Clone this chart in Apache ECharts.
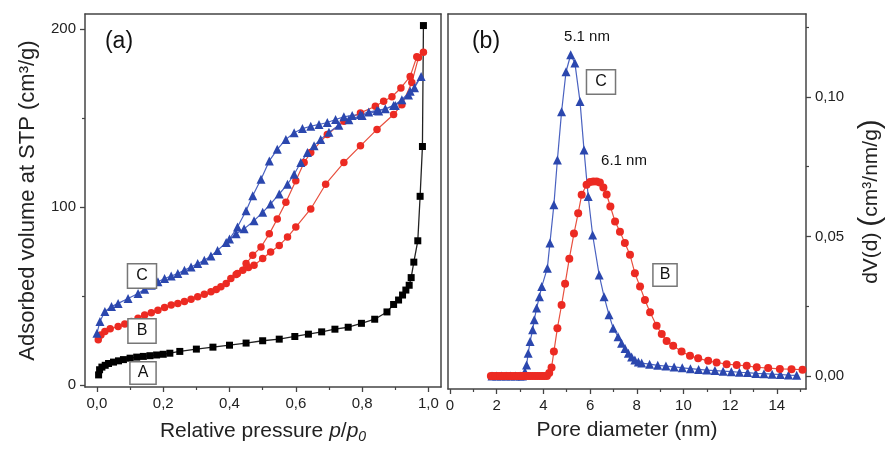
<!DOCTYPE html>
<html>
<head>
<meta charset="utf-8">
<script src="https://cdn.jsdelivr.net/npm/echarts@6/dist/echarts.min.js"></script>
<style>
html, body { margin: 0; padding: 0; background: #fff; }
#chart { width: 888px; height: 449px; }
</style>
</head>
<body>
<div id="chart"></div>
<script>
// (a) nitrogen isotherms, relative pressure vs adsorbed volume
var pressA = [0.005,0.008,0.015,0.025,0.035,0.05,0.065,0.08,0.1,0.12,0.14,0.16,0.18,0.2,0.22,0.25,0.3,0.35,0.4,0.45,0.5,0.55,0.597,0.638,0.678,0.718,0.758,0.798,0.838,0.875,0.895,0.91,0.922,0.932,0.942,0.948,0.956,0.968,0.975,0.982,0.985];
var volA = [5.6,8.5,10,11,12,12.8,13.5,14.2,15,15.6,16,16.4,16.8,17.2,17.8,18.8,20.1,21.2,22.3,23.5,24.8,25.7,27.2,28.5,29.8,31.3,32.4,34.6,36.9,41,45.2,47.7,50.5,53.3,56,60.3,69,81,106,134,202];

var pressBads = [0.004,0.012,0.024,0.04,0.064,0.084,0.104,0.124,0.144,0.164,0.184,0.204,0.224,0.244,0.264,0.284,0.304,0.324,0.344,0.36,0.374,0.39,0.404,0.42,0.44,0.457,0.474,0.5,0.524,0.55,0.575,0.6,0.645,0.69,0.745,0.795,0.845,0.895,0.92,0.95,0.97,0.985];
var volBads = [25.3,28,30,31.5,32.8,34.2,35.6,37.5,39.3,40.6,42,43.5,44.9,45.8,46.8,48.2,49.6,51,52.3,53.6,55.1,57,59.8,62,64.5,66,67.2,71,74.7,78.4,83.1,88.7,98.9,112.8,125,134.4,143.6,152,157.5,170,184,187];
var pressBdes = [0.965,0.945,0.917,0.89,0.865,0.84,0.795,0.745,0.695,0.645,0.625,0.6,0.57,0.544,0.52,0.495,0.47,0.45,0.424];
var volBdes = [184.5,173.4,166.9,162,159.4,156.6,152.9,148.2,140.8,130.6,125,114.7,102.6,93.3,84.9,77.5,72.8,68.2,62.6];

var pressCads = [0,0.009,0.024,0.044,0.064,0.094,0.124,0.144,0.164,0.184,0.204,0.224,0.244,0.264,0.284,0.304,0.324,0.344,0.364,0.39,0.42,0.444,0.474,0.5,0.524,0.55,0.575,0.595,0.615,0.635,0.655,0.675,0.7,0.73,0.76,0.8,0.85,0.9,0.94,0.978];
var volCads = [29,35.6,41.2,44,45.8,48.6,51.4,53.7,56,58,59.8,61.2,62.6,64.5,66.3,68.2,70,72.5,75.6,80,84.9,87.7,92.3,97,101.7,107.3,112.8,118.4,125,130.6,134.5,138,142,146,149,151.5,154,157,163,173.4];
var pressCdes = [0.958,0.945,0.92,0.895,0.87,0.845,0.82,0.795,0.77,0.745,0.72,0.695,0.67,0.645,0.62,0.595,0.57,0.544,0.52,0.495,0.47,0.45,0.424,0.40];
var volCdes = [167,165,160.3,157.1,155.2,154.3,153.4,152,151.5,150.7,149.2,147.5,146.4,145.4,144.1,141.7,138,132.4,125.9,115.6,106.3,97.9,88.7,82];

// (b) pore size distributions
var poreC = [1.8,2.0,2.2,2.4,2.6,2.8,3.0,3.1,3.21,3.28,3.35,3.43,3.54,3.61,3.71,3.83,3.93,4.17,4.28,4.45,4.6,4.78,4.97,5.17,5.35,5.57,5.74,5.92,6.11,6.39,6.6,6.81,6.99,7.2,7.35,7.5,7.64,7.78,7.92,8.07,8.21,8.55,8.9,9.25,9.6,9.95,10.3,10.65,11.0,11.35,11.7,12.05,12.4,12.75,13.1,13.45,13.8,14.15,14.5,14.85];
var dvC = [0,0,0,0,0,0,0,0,0.0015,0.0039,0.0081,0.0123,0.0165,0.0201,0.0243,0.0284,0.032,0.0386,0.0476,0.0613,0.0774,0.0947,0.109,0.1151,0.1121,0.0983,0.081,0.0643,0.0505,0.0362,0.0284,0.0219,0.0171,0.014,0.0117,0.0098,0.0081,0.0068,0.0057,0.005,0.0046,0.0042,0.0038,0.0035,0.0032,0.0029,0.0026,0.0023,0.0021,0.0019,0.0017,0.0015,0.0013,0.0012,0.0009,0.0008,0.0006,0.0005,0.0003,0.0002];
var poreB = [1.75,1.85,1.95,2.05,2.15,2.25,2.35,2.45,2.55,2.65,2.75,2.85,2.95,3.05,3.15,3.25,3.35,3.45,3.55,3.65,3.75,3.85,3.95,4.05,4.15,4.25,4.35,4.45,4.6,4.78,4.93,5.11,5.31,5.49,5.64,5.85,6.0,6.14,6.28,6.42,6.57,6.71,6.87,7.07,7.28,7.49,7.71,7.92,8.14,8.35,8.57,8.85,9.07,9.28,9.56,9.92,10.28,10.63,11.06,11.42,11.85,12.28,12.71,13.14,13.63,14.13,14.63,15.1];
var dvB = [0,0,0,0,0,0,0,0,0,0,0,0,0,0,0,0,0,0,0,0,0,0,0,0,0,0.001,0.003,0.0087,0.0171,0.0254,0.033,0.042,0.051,0.0583,0.0649,0.0685,0.0695,0.0697,0.0697,0.0693,0.0675,0.065,0.0607,0.0553,0.0517,0.0476,0.0434,0.0368,0.032,0.0272,0.0228,0.018,0.015,0.0125,0.0108,0.0087,0.0072,0.0063,0.0054,0.0048,0.0042,0.0039,0.0036,0.0031,0.0028,0.0025,0.0024,0.0022];

// tick positions
var aXMajor = [0,0.2,0.4,0.6,0.8,1.0];
var aXMinor = [0.1,0.3,0.5,0.7,0.9];
var aYMajor = [0,100,200];
var aYMinor = [50,150];
var bXMajor = [0,2,4,6,8,10,12,14];
var bXMinor = [1,3,5,7,9,11,13,15];
var bYMajor = [0,0.05,0.10];
var bYMinor = [0.025,0.075,0.125];

function zip(xs, ys) {
    var out = [];
    for (var i = 0; i < xs.length; i++) out.push([xs[i], ys[i]]);
    return out;
}

var FONT = "'Liberation Sans', Arial, sans-serif";
var frame = { show: true, onZero: false, lineStyle: { color: '#444', width: 1.5 } };

function majorAxis(pos, grid, min, max, ticks, fmt, extra) {
    var ax = {
        type: 'value', gridIndex: grid, position: pos, min: min, max: max,
        splitLine: { show: false },
        axisLine: frame,
        axisTick: { show: true, inside: false, length: 5, customValues: ticks, lineStyle: { color: '#444', width: 1.3 } },
        axisLabel: { show: true, customValues: ticks, formatter: fmt, color: '#222', fontSize: 15, fontFamily: FONT, margin: 9 }
    };
    for (var k in extra) ax[k] = extra[k];
    return ax;
}
function minorAxis(pos, grid, min, max, ticks) {
    return {
        type: 'value', gridIndex: grid, position: pos, min: min, max: max,
        splitLine: { show: false }, axisLine: { show: false, onZero: false },
        axisTick: { show: true, inside: false, length: 3, customValues: ticks, lineStyle: { color: '#444', width: 1.2 } },
        axisLabel: { show: false }
    };
}
function lineAxis(pos, grid, min, max) {
    return {
        type: 'value', gridIndex: grid, position: pos, min: min, max: max,
        splitLine: { show: false }, axisLine: frame, axisTick: { show: false }, axisLabel: { show: false }
    };
}
function comma(d) {
    return function (v) { return v.toFixed(d).replace('.', ','); };
}

var aXMin = -0.036, aXMax = 1.038, aYMin = -1.2, aYMax = 208.5;
var bXMin = -0.086, bXMax = 15.25, bYMin = -0.0047, bYMax = 0.1297;

var titleStyle = { color: '#222', fontSize: 21, fontFamily: FONT };

var option = {
    backgroundColor: '#fff',
    animation: false,
    grid: [
        { left: 85, top: 14, width: 356, height: 375 },
        { left: 448, top: 14, width: 358, height: 375 }
    ],
    xAxis: [
        majorAxis('bottom', 0, aXMin, aXMax, aXMajor, comma(1), {
            name: 'Relative pressure {i|p}{n|/}{i|p}{s|0}', nameLocation: 'middle', nameGap: 31,
            nameTextStyle: {
                color: '#222', fontSize: 21, fontFamily: FONT,
                rich: {
                    i: { fontStyle: 'italic', fontSize: 21, fontFamily: FONT, color: '#222' },
                    n: { fontSize: 21, fontFamily: FONT, color: '#222' },
                    s: { fontStyle: 'italic', fontSize: 14, fontFamily: FONT, color: '#222', padding: [12, 0, 0, 0] }
                }
            }
        }),
        minorAxis('bottom', 0, aXMin, aXMax, aXMinor),
        lineAxis('top', 0, aXMin, aXMax),
        majorAxis('bottom', 1, bXMin, bXMax, bXMajor, comma(0), {
            name: 'Pore diameter (nm)', nameLocation: 'middle', nameGap: 31, nameTextStyle: titleStyle
        }),
        minorAxis('bottom', 1, bXMin, bXMax, bXMinor),
        lineAxis('top', 1, bXMin, bXMax)
    ],
    yAxis: [
        majorAxis('left', 0, aYMin, aYMax, aYMajor, comma(0), {
            name: 'Adsorbed volume at STP (cm³/g)', nameLocation: 'middle', nameRotate: 90, nameGap: 46,
            nameTextStyle: { color: '#222', fontSize: 22, fontFamily: FONT }
        }),
        minorAxis('left', 0, aYMin, aYMax, aYMinor),
        lineAxis('right', 0, aYMin, aYMax),
        majorAxis('right', 1, bYMin, bYMax, bYMajor, comma(2), {
            name: 'dV(d) {p|(}cm³/nm/g{p|)}', nameLocation: 'middle', nameRotate: 90, nameGap: 50,
            nameTextStyle: {
                color: '#222', fontSize: 21, fontFamily: FONT,
                rich: { p: { fontSize: 30, fontFamily: FONT, color: '#222' } }
            }
        }),
        minorAxis('right', 1, bYMin, bYMax, bYMinor),
        lineAxis('left', 1, bYMin, bYMax)
    ],
    series: [
        {
            name: 'A', type: 'line', xAxisIndex: 0, yAxisIndex: 0,
            data: zip(pressA, volA),
            symbol: 'rect', symbolSize: 7,
            itemStyle: { color: '#000' }, lineStyle: { color: '#222', width: 1.3 }
        },
        {
            name: 'B', type: 'line', xAxisIndex: 0, yAxisIndex: 0,
            data: zip(pressBads, volBads).concat(zip(pressBdes, volBdes)),
            symbol: 'circle', symbolSize: 7.5,
            itemStyle: { color: '#ec2a22' }, lineStyle: { color: '#e8503f', width: 1.2 }
        },
        {
            name: 'C', type: 'line', xAxisIndex: 0, yAxisIndex: 0,
            data: zip(pressCads, volCads).concat(zip(pressCdes, volCdes)),
            symbol: 'triangle', symbolSize: 9,
            itemStyle: { color: '#2b47ae' }, lineStyle: { color: '#4a62c0', width: 1.2 }
        },
        {
            name: 'C', type: 'line', xAxisIndex: 3, yAxisIndex: 3,
            data: zip(poreC, dvC),
            symbol: 'triangle', symbolSize: 9,
            itemStyle: { color: '#2b47ae' }, lineStyle: { color: '#4a62c0', width: 1.2 }
        },
        {
            name: 'B', type: 'line', xAxisIndex: 3, yAxisIndex: 3,
            data: zip(poreB, dvB),
            symbol: 'circle', symbolSize: 8,
            itemStyle: { color: '#ec2a22' }, lineStyle: { color: '#e8503f', width: 1.2 }
        }
    ],
    graphic: [
        { type: 'text', x: 119, y: 42, style: { text: '(a)', fontSize: 23, fontFamily: FONT, fill: '#111', align: 'center', verticalAlign: 'middle' } },
        { type: 'text', x: 486, y: 42, style: { text: '(b)', fontSize: 23, fontFamily: FONT, fill: '#111', align: 'center', verticalAlign: 'middle' } },
        { type: 'text', x: 587, y: 37, style: { text: '5.1 nm', fontSize: 15, fontFamily: FONT, fill: '#111', align: 'center', verticalAlign: 'middle' } },
        { type: 'text', x: 624, y: 161, style: { text: '6.1 nm', fontSize: 15, fontFamily: FONT, fill: '#111', align: 'center', verticalAlign: 'middle' } },
        { type: 'text', x: 142, y: 276, z: 100, style: { text: 'C', fontSize: 16, fontFamily: FONT, fill: '#111', align: 'center', verticalAlign: 'middle', backgroundColor: '#fff', borderColor: '#777', borderWidth: 1.5, padding: [4, 8, 3, 8] } },
        { type: 'text', x: 142, y: 331, z: 100, style: { text: 'B', fontSize: 16, fontFamily: FONT, fill: '#111', align: 'center', verticalAlign: 'middle', backgroundColor: '#fff', borderColor: '#777', borderWidth: 1.5, padding: [4, 8, 3, 8] } },
        { type: 'text', x: 143, y: 373, z: 100, style: { text: 'A', fontSize: 16, fontFamily: FONT, fill: '#111', align: 'center', verticalAlign: 'middle', backgroundColor: '#fff', borderColor: '#777', borderWidth: 1.5, padding: [3, 7, 2, 7] } },
        { type: 'text', x: 601, y: 82, z: 100, style: { text: 'C', fontSize: 16, fontFamily: FONT, fill: '#111', align: 'center', verticalAlign: 'middle', backgroundColor: '#fff', borderColor: '#777', borderWidth: 1.5, padding: [4, 8, 3, 8] } },
        { type: 'text', x: 665, y: 275, z: 100, style: { text: 'B', fontSize: 16, fontFamily: FONT, fill: '#111', align: 'center', verticalAlign: 'middle', backgroundColor: '#fff', borderColor: '#777', borderWidth: 1.5, padding: [3, 6, 2, 6] } }
    ]
};

var myChart = echarts.init(document.getElementById('chart'));
myChart.setOption(option);
</script>
</body>
</html>
